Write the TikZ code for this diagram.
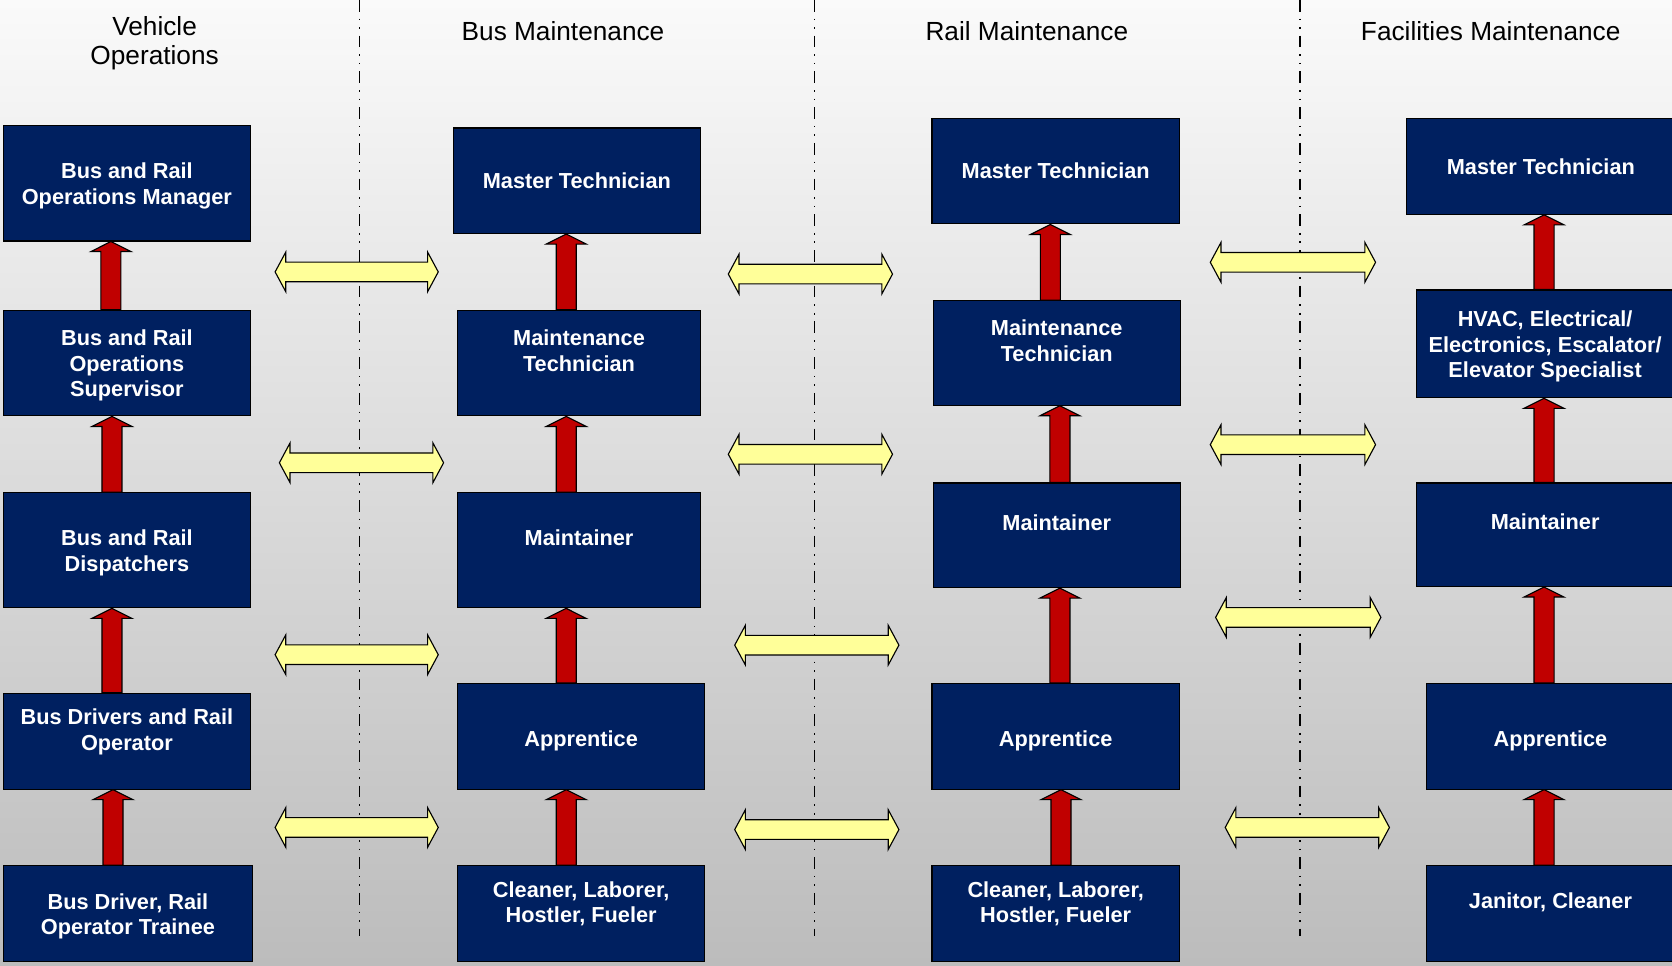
\documentclass[tikz,border=0pt]{standalone}
\usepackage{fontspec}
\setmainfont{Liberation Sans}
\usepackage{xcolor}
\usetikzlibrary{calc}

\definecolor{navy}{RGB}{0,32,96}
\definecolor{darkred}{RGB}{192,0,0}
\definecolor{paleyellow}{RGB}{255,255,153}
\definecolor{bgtop}{RGB}{250,250,250}
\definecolor{bgbottom}{RGB}{188,188,188}

\tikzset{
  box/.style={draw=black, fill=navy, line width=0.6pt, inner sep=0pt},
  boxtext/.style={text=white, align=center, font=\bfseries\fontsize{11.6}{13.6}\selectfont},
  header/.style={align=center, font=\fontsize{14}{15.9}\selectfont},
  divider/.style={draw=black, line width=0.75pt,
    dash pattern=on 0.22cm off 0.13cm on 0.03cm off 0.13cm on 0.03cm off 0.13cm},
  uparrow/.style={draw=black, fill=darkred, line width=0.6pt, to path={
    ($(\tikztostart)+(-9.4,0)$) -- ($(\tikztotarget)+(-9.4,9.4)$)
    -- ($(\tikztotarget)+(-18.75,9.4)$) -- (\tikztotarget)
    -- ($(\tikztotarget)+(18.75,9.4)$) -- ($(\tikztotarget)+(9.4,9.4)$)
    -- ($(\tikztostart)+(9.4,0)$) -- cycle}},
  twoway/.style={draw=black, fill=paleyellow, line width=0.6pt, to path={
    (\tikztostart) -- ($(\tikztostart)+(10,-18.6)$) -- ($(\tikztostart)+(10,-9.2)$)
    -- ($(\tikztotarget)+(-10,-9.2)$) -- ($(\tikztotarget)+(-10,-18.6)$)
    -- (\tikztotarget) -- ($(\tikztotarget)+(-10,18.6)$)
    -- ($(\tikztotarget)+(-10,9.2)$) -- ($(\tikztostart)+(10,9.2)$)
    -- ($(\tikztostart)+(10,18.6)$) -- cycle}}
}

\begin{document}
\begin{tikzpicture}[x=0.02cm, y=-0.02cm]

        % Background
        \clip (0,0) rectangle (1568,905);
        \shade[top color=bgtop, bottom color=bgbottom] (0,0) rectangle (1568,905);

        % Dividers
        \draw[divider] (337,0) -- (337,878);
        \draw[divider] (764,0) -- (764,878);
        \draw[divider] (1219,0) -- (1219,878);

        % Headers
        \node[header] (hvo) at (145,40.5) {Vehicle\\Operations};
        \node[header] (hbm) at (528,29.5) {Bus Maintenance};
        \node[header] (hrm) at (963,29.5) {Rail Maintenance};
        \node[header] (hfm) at (1398,29.5) {Facilities Maintenance};

        % Vehicle Operations
        \node[box, minimum width=4.64cm, minimum height=2.16cm] (vo1) at (119,172) {};
        \node[box, minimum width=4.64cm, minimum height=1.98cm] (vo2) at (119,340.5) {};
        \node[box, minimum width=4.64cm, minimum height=2.16cm] (vo3) at (119,516) {};
        \node[box, minimum width=4.64cm, minimum height=1.80cm] (vo4) at (119,695) {};
        \node[box, minimum width=4.68cm, minimum height=1.80cm] (vo5) at (120,857) {};
        \node[boxtext] (vo1t) at ([yshift=-0.05cm]vo1) {Bus and Rail\\Operations Manager};
        \node[boxtext] (vo2t) at ([yshift=-0.05cm]vo2) {Bus and Rail\\Operations\\Supervisor};
        \node[boxtext] (vo3t) at ([yshift=-0.05cm]vo3) {Bus and Rail\\Dispatchers};
        \node[boxtext] (vo4t) at ([yshift=0.17cm]vo4) {Bus Drivers and Rail\\Operator};
        \node[boxtext] (vo5t) at ([yshift=-0.05cm]vo5) {Bus Driver, Rail\\Operator Trainee};

        % Bus Maintenance
        \node[box, minimum width=4.64cm, minimum height=1.98cm] (bm1) at (541,169.5) {};
        \node[box, minimum width=4.56cm, minimum height=1.98cm] (bm2) at (543,340.5) {};
        \node[box, minimum width=4.56cm, minimum height=2.16cm] (bm3) at (543,516) {};
        \node[box, minimum width=4.64cm, minimum height=1.98cm] (bm4) at (545,690.5) {};
        \node[box, minimum width=4.64cm, minimum height=1.80cm] (bm5) at (545,857) {};
        \node[boxtext] (bm1t) at (bm1) {Master Technician};
        \node[boxtext] (bm2t) at ([yshift=0.23cm]bm2) {Maintenance\\Technician};
        \node[boxtext] (bm3t) at ([yshift=0.24cm]bm3) {Maintainer};
        \node[boxtext] (bm4t) at ([yshift=-0.09cm]bm4) {Apprentice};
        \node[boxtext] (bm5t) at ([yshift=0.19cm]bm5) {Cleaner, Laborer,\\Hostler, Fueler};

        % Rail Maintenance
        \node[box, minimum width=4.64cm, minimum height=1.98cm] (rm1) at (990,160.5) {};
        \node[box, minimum width=4.64cm, minimum height=1.96cm] (rm2) at (991,331) {};
        \node[box, minimum width=4.64cm, minimum height=1.96cm] (rm3) at (991,502) {};
        \node[box, minimum width=4.64cm, minimum height=1.98cm] (rm4) at (990,690.5) {};
        \node[box, minimum width=4.64cm, minimum height=1.80cm] (rm5) at (990,857) {};
        \node[boxtext] (rm1t) at (rm1) {Master Technician};
        \node[boxtext] (rm2t) at ([yshift=0.23cm]rm2) {Maintenance\\Technician};
        \node[boxtext] (rm3t) at ([yshift=0.24cm]rm3) {Maintainer};
        \node[boxtext] (rm4t) at ([yshift=-0.09cm]rm4) {Apprentice};
        \node[boxtext] (rm5t) at ([yshift=0.19cm]rm5) {Cleaner, Laborer,\\Hostler, Fueler};

        % Facilities Maintenance
        \node[box, minimum width=5.04cm, minimum height=1.80cm] (fm1) at (1445,156) {};
        \node[box, minimum width=4.84cm, minimum height=2.02cm] (fm2) at (1449,322.5) {};
        \node[box, minimum width=4.84cm, minimum height=1.94cm] (fm3) at (1449,501.5) {};
        \node[box, minimum width=4.64cm, minimum height=1.98cm] (fm4) at (1454,690.5) {};
        \node[box, minimum width=4.64cm, minimum height=1.80cm] (fm5) at (1454,857) {};
        \node[boxtext] (fm1t) at (fm1) {Master Technician};
        \node[boxtext] (fm2t) at ([yshift=-0.05cm]fm2) {HVAC, Electrical/\\Electronics, Escalator/\\Elevator Specialist};
        \node[boxtext] (fm3t) at ([yshift=0.24cm]fm3) {Maintainer};
        \node[boxtext] (fm4t) at ([yshift=-0.09cm]fm4) {Apprentice};
        \node[boxtext] (fm5t) at ([yshift=0.21cm]fm5) {Janitor, Cleaner};

        % Career steps
        \draw[uparrow] (vo2.north -| 104,0) to (vo1.south -| 104,0);
        \draw[uparrow] (vo3.north -| 105,0) to (vo2.south -| 105,0);
        \draw[uparrow] (vo4.north -| 105,0) to (vo3.south -| 105,0);
        \draw[uparrow] (vo5.north -| 106,0) to (vo4.south -| 106,0);

        \draw[uparrow] (bm2.north -| 531,0) to (bm1.south -| 531,0);
        \draw[uparrow] (bm3.north -| 531,0) to (bm2.south -| 531,0);
        \draw[uparrow] (bm4.north -| 531,0) to (bm3.south -| 531,0);
        \draw[uparrow] (bm5.north -| 531,0) to (bm4.south -| 531,0);

        \draw[uparrow] (rm2.north -| 985,0) to (rm1.south -| 985,0);
        \draw[uparrow] (rm3.north -| 994,0) to (rm2.south -| 994,0);
        \draw[uparrow] (rm4.north -| 994,0) to (rm3.south -| 994,0);
        \draw[uparrow] (rm5.north -| 995,0) to (rm4.south -| 995,0);

        \draw[uparrow] (fm2.north -| 1448,0) to (fm1.south -| 1448,0);
        \draw[uparrow] (fm3.north -| 1448,0) to (fm2.south -| 1448,0);
        \draw[uparrow] (fm4.north -| 1448,0) to (fm3.south -| 1448,0);
        \draw[uparrow] (fm5.north -| 1448,0) to (fm4.south -| 1448,0);

        % Cross-over points
        \coordinate (vb1w) at (258,255); \coordinate (vb1e) at (411,255);
        \coordinate (vb2w) at (262,434); \coordinate (vb2e) at (416,434);
        \coordinate (vb3w) at (258,614); \coordinate (vb3e) at (411,614);
        \coordinate (vb4w) at (258,776); \coordinate (vb4e) at (411,776);
        \coordinate (br1w) at (683,257); \coordinate (br1e) at (837,257);
        \coordinate (br2w) at (683,426); \coordinate (br2e) at (837,426);
        \coordinate (br3w) at (689,605); \coordinate (br3e) at (843,605);
        \coordinate (br4w) at (689,778); \coordinate (br4e) at (843,778);
        \coordinate (rf1w) at (1135,246); \coordinate (rf1e) at (1290,246);
        \coordinate (rf2w) at (1135,417); \coordinate (rf2e) at (1290,417);
        \coordinate (rf3w) at (1140,579); \coordinate (rf3e) at (1295,579);
        \coordinate (rf4w) at (1149,776); \coordinate (rf4e) at (1303,776);

        % Transfer arrows
        \draw[twoway] (vb1w) to (vb1e);
        \draw[twoway] (vb2w) to (vb2e);
        \draw[twoway] (vb3w) to (vb3e);
        \draw[twoway] (vb4w) to (vb4e);
        \draw[twoway] (br1w) to (br1e);
        \draw[twoway] (br2w) to (br2e);
        \draw[twoway] (br3w) to (br3e);
        \draw[twoway] (br4w) to (br4e);
        \draw[twoway] (rf1w) to (rf1e);
        \draw[twoway] (rf2w) to (rf2e);
        \draw[twoway] (rf3w) to (rf3e);
        \draw[twoway] (rf4w) to (rf4e);

    \end{tikzpicture}
\end{document}
